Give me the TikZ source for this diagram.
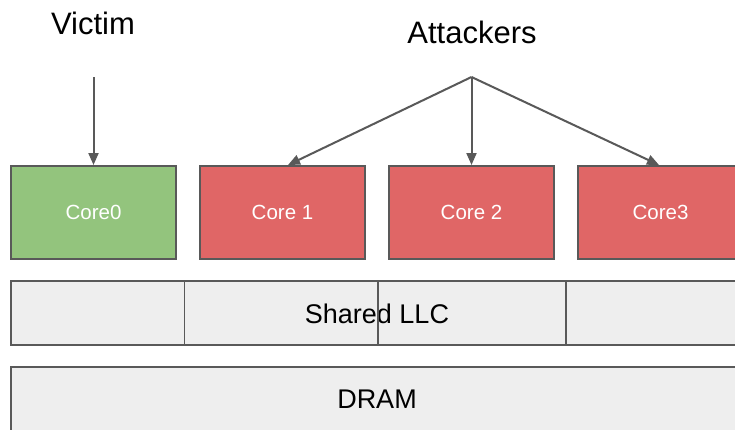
\documentclass[tikz,border=0pt]{standalone}
\usepackage{fontspec}
\setmainfont{Liberation Sans}
\usetikzlibrary{arrows.meta}
\definecolor{edge}{HTML}{595959}
\definecolor{victimgreen}{HTML}{93C47D}
\definecolor{attackred}{HTML}{E06666}
\definecolor{cachegray}{HTML}{EEEEEE}
\tikzset{
  core/.style={draw=edge, line width=2pt, minimum width=165pt, minimum height=93pt,
    inner sep=0pt, text=white, font=\fontsize{20.5}{24}\selectfont},
  victimcore/.style={core, fill=victimgreen},
  attackcore/.style={core, fill=attackred},
  memband/.style={draw=edge, line width=2pt, fill=cachegray, inner sep=0pt},
  title/.style={font=\fontsize{31}{36}\selectfont, anchor=base, inner sep=0pt},
  bandlabel/.style={font=\fontsize{27}{32}\selectfont, anchor=base, inner sep=0pt},
  conn/.style={draw=edge, line width=2pt, -{Triangle[length=12pt,width=10pt]}},
  divider/.style={draw=edge, line width=1.6pt}
}
\begin{document}
\begin{tikzpicture}[x=1pt,y=-1pt]
  \useasboundingbox (0,0) rectangle (735,429);
  \clip (0,0) rectangle (735,429);
  \fill[white] (0,0) rectangle (735,429);

  % processor cores
  \node[victimcore] (core0) at (93.5,212.5) {Core0};
  \node[attackcore] (core1) at (282.5,212.5) {Core 1};
  \node[attackcore] (core2) at (471.5,212.5) {Core 2};
  \node[attackcore] (core3) at (660.5,212.5) {Core3};

  % shared last-level cache, split into slices
  \node[memband, minimum width=732pt, minimum height=64pt] (llc) at (377,313) {};
  \node[bandlabel] (llctext) at (377,323.3) {Shared LLC};
  \draw[divider] (184.3,281) -- (184.3,345);
  \draw[divider] (377.7,281) -- (377.7,345);
  \draw[divider] (566,281) -- (566,345);

  % main memory
  \node[memband, minimum width=732pt, minimum height=74pt] (dram) at (377,404) {};
  \node[bandlabel] (dramtext) at (377,408.3) {DRAM};

  % labels and arrows
  \node[title] (victim) at (93,34) {Victim};
  \node[title] (attackers) at (472,43) {Attackers};
  \coordinate (vsrc) at (93.5,77);
  \coordinate (asrc) at (471.5,77);
  \draw[conn] (vsrc) -- (core0.north);
  \draw[conn] (asrc) -- ([xshift=5.5pt]core1.north);
  \draw[conn] (asrc) -- (core2.north);
  \draw[conn] (asrc) -- ([xshift=-1.5pt]core3.north);
\end{tikzpicture}
\end{document}
